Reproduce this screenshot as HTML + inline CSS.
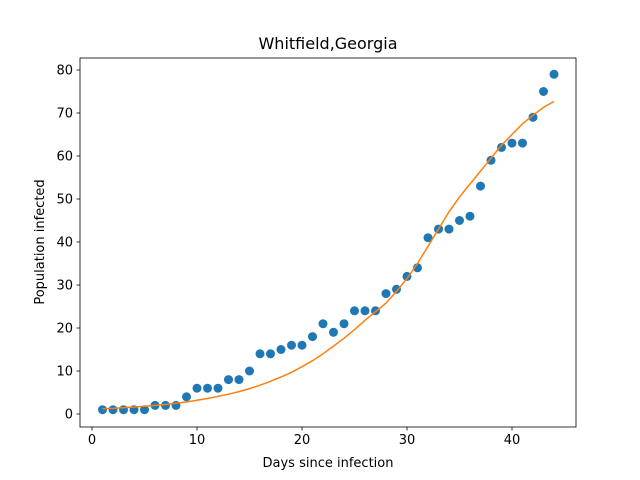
<!DOCTYPE html>
<html><head><meta charset="utf-8"><style>
html,body{margin:0;padding:0;background:#fff;}
svg{display:block;font-family:"DejaVu Sans","Liberation Sans",sans-serif;}
</style></head><body>
<svg id="chart" width="640" height="480" viewBox="0 0 640 480">
<rect x="0" y="0" width="640" height="480" fill="#fff"/>
<g id="plot"></g>
</svg>
<script>
const days = [1,2,3,4,5,6,7,8,9,10,11,12,13,14,15,16,17,18,19,20,21,22,23,24,25,26,27,28,29,30,31,32,33,34,35,36,37,38,39,40,41,42,43,44];
const infected = [1,1,1,1,1,2,2,2,4,6,6,6,8,8,10,14,14,15,16,16,18,21,19,21,24,24,24,28,29,32,34,41,43,43,45,46,53,59,62,63,63,69,75,79];
const fitted = [1.2,1.3,1.5,1.6,1.8,2.0,2.2,2.5,2.8,3.2,3.6,4.1,4.6,5.2,5.9,6.7,7.6,8.6,9.7,11.0,12.4,14.0,15.8,17.6,19.6,21.8,23.8,25.8,28.5,31.5,35.0,39.0,43.0,47.0,50.5,53.5,56.5,59.5,62.5,65.0,67.5,69.5,71.3,72.7];
const xTicks = [0,10,20,30,40];
const yTicks = [0,10,20,30,40,50,60,70,80];

const NS = "http://www.w3.org/2000/svg";
const g = document.getElementById('plot');
const L=80,R=576,T=58,B=427;
const xs = v => 92 + (v-0)*10.5;
const ys = v => 414 - v*4.3;
function mk(tag, attrs, parent){const e=document.createElementNS(NS,tag);for(const k in attrs)e.setAttribute(k,attrs[k]);(parent||g).appendChild(e);return e;}

const frame = mk('rect',{x:L,y:T,width:R-L,height:B-T,fill:'none',stroke:'#000','stroke-width':0.8});



xTicks.forEach(t=>{
  const x=xs(t);
  const ln=mk('line',{x1:x,y1:B,x2:x,y2:B+3.5,stroke:'#000','stroke-width':0.8});
  
  
  const tx=mk('text',{x:x,y:B+17,'font-size':13,'text-anchor':'middle'});
  tx.textContent=t;
  
  
});
yTicks.forEach(t=>{
  const y=ys(t);
  const ln=mk('line',{x1:L-3.5,y1:y,x2:L,y2:y,stroke:'#000','stroke-width':0.8});
  
  
  const tx=mk('text',{x:L-7,y:y+4.5,'font-size':13,'text-anchor':'end'});
  tx.textContent=t;
  
  
});

days.forEach((d,i)=>{
  const c=mk('circle',{cx:xs(d),cy:ys(infected[i]),r:4.5,fill:'#1f77b4'});
  
  
});

const pts = days.map((d,i)=>xs(d).toFixed(1)+','+ys(fitted[i]).toFixed(1)).join(' ');
const pl=mk('polyline',{points:pts,fill:'none',stroke:'#ff7f0e','stroke-width':1.5});



const title=mk('text',{x:(L+R)/2,y:49,'font-size':16,'text-anchor':'middle'});
title.textContent='Whitfield,Georgia';


const xl=mk('text',{x:(L+R)/2,y:467,'font-size':13,'text-anchor':'middle'});
xl.textContent='Days since infection';


const yl=mk('text',{x:0,y:0,'font-size':13,'text-anchor':'middle',transform:'translate(44,242) rotate(-90)'});
yl.textContent='Population infected';


</script>
</body></html>
